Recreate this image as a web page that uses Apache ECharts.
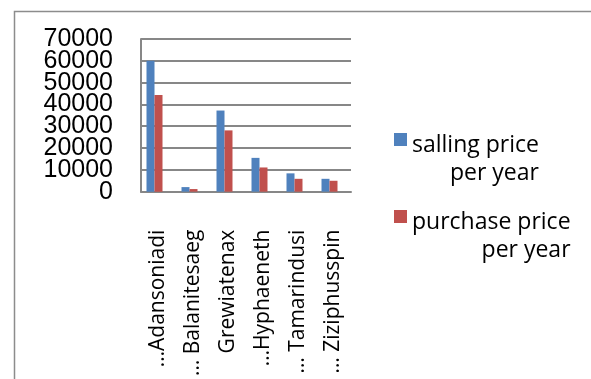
<!DOCTYPE html>
<html>
<head>
<meta charset="utf-8">
<script src="https://cdn.jsdelivr.net/npm/echarts@6/dist/echarts.min.js"></script>
<style>
  html, body { margin: 0; padding: 0; background: #fff; }
  #chart { width: 591px; height: 379px; }
</style>
</head>
<body>
<div id="chart"></div>
<script>
const categories = ['…Adansoniadi', '… Balanitesaeg', 'Grewiatenax', '…Hyphaeneth', '… Tamarindusi', '… Ziziphusspin']
const sellingPrice = [60000, 2100, 37200, 15500, 8400, 5900]
const purchasePrice = [44300, 1200, 28100, 11100, 5900, 5000]
const yTicks = { min: 0, max: 70000, interval: 10000 }
const seriesNames = ['salling price per year', 'purchase price per year']
const legendLines = {
  'salling price per year': ['salling price', 'per year'],
  'purchase price per year': ['purchase price', 'per year'],
}

const gridColor = '#878787'
// square marker sitting at the top of a taller box, so it lines up with the first text line
const legendIcon = 'path://M0,0h13v13h-13z M0,53'

// the tick labels are packed tighter than their font size, and echarts drops
// overlapping neighbours, so every other label goes on an overlaid twin axis
const yLabel = keepOdd => ({
  margin: 28,
  showMinLabel: true,
  showMaxLabel: true,
  fontFamily: 'Liberation Sans',
  fontSize: 25,
  color: '#000',
  formatter: v => ((v / yTicks.interval) % 2 === 1) === keepOdd ? String(v) : '',
})

const chart = echarts.init(document.getElementById('chart'))

chart.setOption({
  animation: false,
  graphic: [{
    type: 'rect',
    shape: { x: 14.5, y: 11.5, width: 700, height: 500 },
    style: { fill: 'none', stroke: '#8c8c8c', lineWidth: 1.5 },
    silent: true,
  }],
  grid: { left: 141, top: 39, right: 240, bottom: 185, containLabel: false },
  legend: {
    orient: 'vertical',
    left: 394,
    top: 133,
    padding: 0,
    itemWidth: 13,
    itemHeight: 53,
    itemGap: 24,
    icon: legendIcon,
    data: seriesNames,
    formatter: name => `{a|${legendLines[name][0]}}\n{b|${legendLines[name][1]}}`,
    textStyle: {
      fontFamily: 'Open Sans',
      fontSize: 23,
      color: '#000',
      rich: {
        a: { fontFamily: 'Open Sans', fontSize: 23, lineHeight: 28, color: '#000' },
        b: { fontFamily: 'Open Sans', fontSize: 23, lineHeight: 28, color: '#000', align: 'right' },
      },
    },
  },
  xAxis: {
    type: 'category',
    data: categories,
    axisLine: { lineStyle: { color: gridColor, width: 2 } },
    axisTick: { show: false },
    axisLabel: {
      rotate: 90,
      interval: 0,
      margin: 38,
      fontFamily: 'Open Sans',
      fontSize: 21,
      color: '#000',
    },
  },
  yAxis: [{
    type: 'value',
    position: 'left',
    min: yTicks.min,
    max: yTicks.max,
    interval: yTicks.interval,
    axisLine: { show: true, lineStyle: { color: gridColor, width: 2 } },
    axisTick: { show: false },
    splitLine: { lineStyle: { color: gridColor, width: 2 } },
    axisLabel: yLabel(false),
  }, {
    type: 'value',
    position: 'left',
    offset: 0,
    min: yTicks.min,
    max: yTicks.max,
    interval: yTicks.interval,
    axisLine: { show: false },
    axisTick: { show: false },
    splitLine: { show: false },
    axisLabel: yLabel(true),
  }],
  series: [{
    name: seriesNames[0],
    type: 'bar',
    data: sellingPrice,
    barWidth: 8,
    barGap: '0%',
    itemStyle: { color: '#4f81bd' },
  }, {
    name: seriesNames[1],
    type: 'bar',
    data: purchasePrice,
    barWidth: 8,
    itemStyle: { color: '#c0504d' },
  }, {
    // empty spacer so the pair sits a little left of each category centre
    name: 'spacer',
    type: 'bar',
    data: [],
    barWidth: 8,
    silent: true,
  }],
})
</script>
</body>
</html>
